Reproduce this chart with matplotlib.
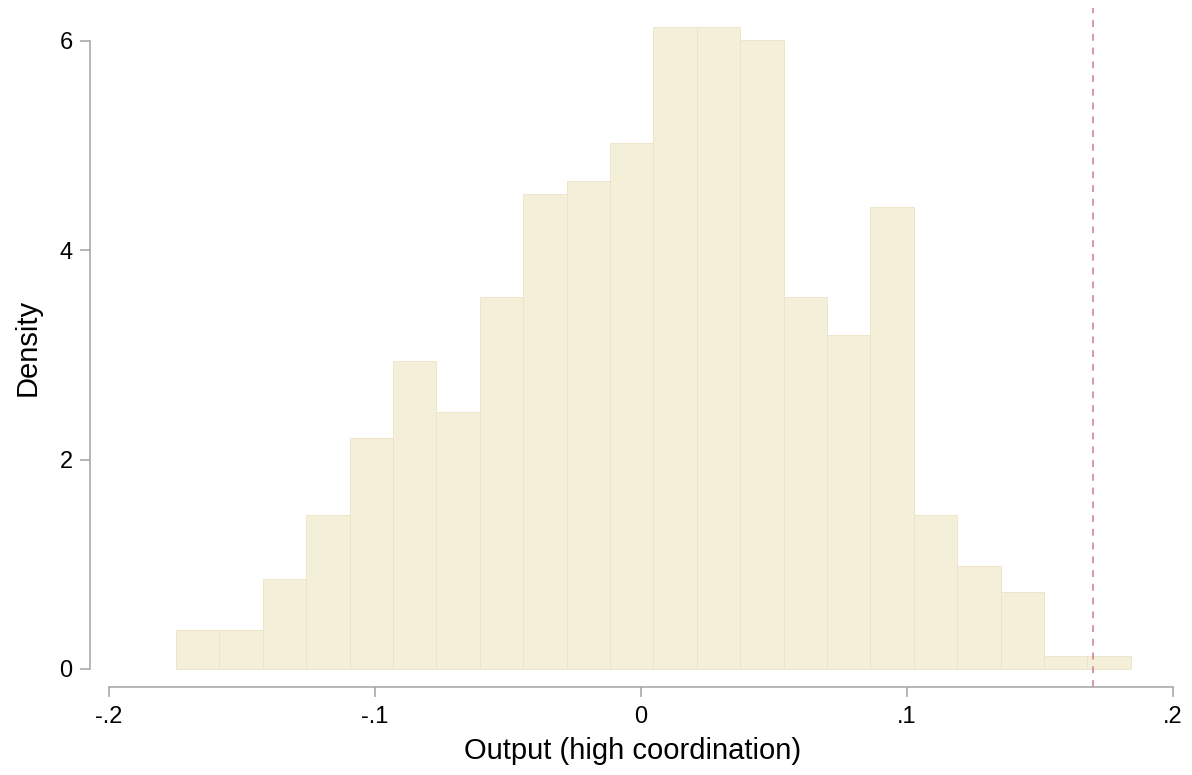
import numpy as np
import matplotlib
matplotlib.use("Agg")
import matplotlib.pyplot as plt

plt.rcParams['font.family'] = ['Liberation Sans', 'DejaVu Sans']

# histogram of simulated output, 22 bins
bin_start = -0.1747
bin_width = 0.01632
density = [0.368, 0.368, 0.858, 1.471, 2.206, 2.942, 2.452, 3.555, 4.536, 4.659, 5.027,
           6.130, 6.130, 6.007, 3.555, 3.187, 4.413, 1.471, 0.981, 0.736, 0.123, 0.123]
observed = 0.17

xticks = [-0.2, -0.1, 0, 0.1, 0.2]
xticklabels = ['-.2', '-.1', '0', '.1', '.2']
yticks = [0, 2, 4, 6]

left_edges = bin_start + bin_width * np.arange(len(density))

fig = plt.figure(figsize=(11.92, 7.75), dpi=100)
ax = fig.add_axes([90/1192, 88/775, 1086/1192, 679/775])

ax.bar(left_edges, density, width=bin_width, align='edge',
       color='#f4efd8', edgecolor='#ebe4c4', linewidth=0.6)
ax.axvline(observed, color='#cf78a4', lw=1.1, dashes=(4.5, 4.5))

ax.set_xlim(-0.207, 0.2013)
ax.set_ylim(-0.172, 6.312)
ax.set_xticks(xticks)
ax.set_xticklabels(xticklabels)
ax.set_yticks(yticks)

for s in ['top', 'right']:
    ax.spines[s].set_visible(False)
ax.spines['left'].set_bounds(0, 6)
ax.spines['bottom'].set_bounds(-0.2, 0.2)
for s in ['left', 'bottom']:
    ax.spines[s].set_color('#a3a3a3')
    ax.spines[s].set_linewidth(1.1)
ax.tick_params(axis='both', direction='out', length=7.5, width=1.1, color='#a3a3a3',
               labelsize=17, pad=5)
ax.tick_params(axis='x', pad=6)

ax.set_xlabel('Output (high coordination)', fontsize=21, labelpad=7)
ax.set_ylabel('Density', fontsize=21, labelpad=13)

fig.savefig('out.png', dpi=100)
